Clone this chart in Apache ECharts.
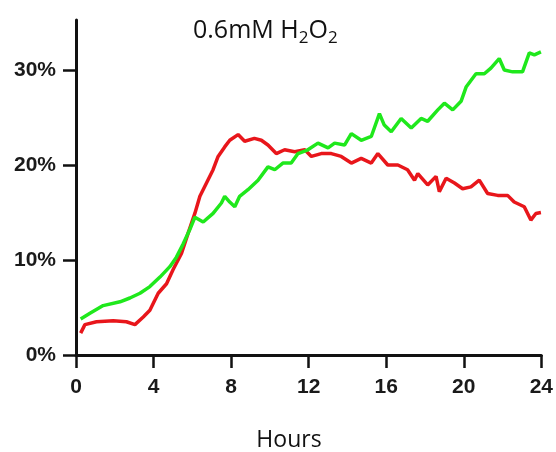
<!DOCTYPE html>
<html>
<head>
<meta charset="utf-8">
<script src="https://cdn.jsdelivr.net/npm/echarts@6/dist/echarts.min.js"></script>
<style>html,body{margin:0;padding:0;background:#fff}#c{width:556px;height:452px}</style>
</head>
<body>
<div id="c"></div>
<script>
const titleMain = '0.6mM H';
const titleMid = 'O';
const titleSub = '2';
const xAxisTitle = 'Hours';
const xTicks = [0, 4, 8, 12, 16, 20, 24];
const yTicks = [0, 10, 20, 30];

const greenHours = [0.24,0.72,1.4,2.27,2.78,3.3,3.81,4.33,4.84,5.18,5.53,5.87,6.13,6.56,7.07,7.5,7.67,7.93,8.19,8.44,8.87,9.39,9.9,10.25,10.67,11.1,11.45,11.96,12.48,13.0,13.34,13.85,14.2,14.71,15.23,15.65,15.9,16.26,16.77,17.29,17.8,18.14,18.66,19.0,19.43,19.86,20.12,20.63,21.06,21.4,21.83,22.09,22.52,23.03,23.38,23.64,23.98];
const greenValues = [3.8,4.4,5.2,5.6,6.0,6.5,7.2,8.2,9.3,10.3,11.7,13.2,14.5,14.0,14.9,16.0,16.7,16.1,15.6,16.7,17.4,18.4,19.8,19.5,20.2,20.2,21.2,21.6,22.3,21.8,22.3,22.1,23.3,22.6,23.0,25.4,24.2,23.5,24.9,23.9,24.9,24.6,25.8,26.5,25.8,26.7,28.2,29.6,29.6,30.2,31.2,30.0,29.8,29.8,31.8,31.6,31.9];

const redHours = [0.24,0.46,1.06,1.92,2.6,3.04,3.47,3.81,4.24,4.67,5.01,5.44,5.78,6.13,6.39,6.73,7.07,7.33,7.67,7.93,8.36,8.7,9.2,9.56,9.9,10.33,10.76,11.28,11.8,12.14,12.65,13.17,13.68,14.2,14.71,15.23,15.57,16.08,16.6,17.1,17.46,17.63,18.14,18.57,18.74,19.09,19.52,19.94,20.37,20.8,21.23,21.75,22.26,22.6,23.12,23.46,23.72,23.98];
const redValues = [2.3,3.2,3.5,3.6,3.5,3.2,4.0,4.7,6.5,7.5,9.0,10.7,12.8,14.9,16.7,18.1,19.5,20.9,21.9,22.6,23.2,22.5,22.8,22.6,22.1,21.2,21.6,21.4,21.6,20.9,21.2,21.2,20.9,20.2,20.7,20.2,21.2,20.0,20.0,19.5,18.4,19.1,17.9,18.8,17.2,18.6,18.1,17.5,17.7,18.4,17.0,16.8,16.8,16.1,15.6,14.2,14.9,15.0];

const zip = (a, b) => a.map((v, i) => [v, b[i]]);
const axisColor = '#111';
const labelFont = {fontFamily: '"Liberation Sans Narrow","Liberation Sans",Arial,sans-serif', fontWeight: 'bold', fontSize: 21, color: '#1a1a1a'};

const chart = echarts.init(document.getElementById('c'), null, {renderer: 'canvas'});
chart.setOption({
  animation: false,
  backgroundColor: '#fff',
  grid: {left: 76, right: 14, top: 20, bottom: 97, containLabel: false},
  xAxis: {
    type: 'value', min: 0, max: 24, interval: 4,
    splitLine: {show: false},
    axisLine: {show: true, lineStyle: {color: axisColor, width: 3}},
    axisTick: {show: true, length: 13, lineStyle: {color: axisColor, width: 2.5}, customValues: xTicks},
    axisLabel: Object.assign({margin: 22, customValues: xTicks}, labelFont)
  },
  yAxis: {
    type: 'value', min: 0, max: 35.26,
    splitLine: {show: false},
    axisLine: {show: true, onZero: false, lineStyle: {color: axisColor, width: 3}},
    axisTick: {show: true, length: 13, lineStyle: {color: axisColor, width: 2.5}, customValues: yTicks},
    axisLabel: Object.assign({margin: 20, customValues: yTicks, formatter: v => v + '%'}, labelFont)
  },
  series: [
    {type: 'line', data: zip(redHours, redValues), showSymbol: false, symbol: 'none',
     lineStyle: {color: '#e8161b', width: 3.5}, z: 2},
    {type: 'line', data: zip(greenHours, greenValues), showSymbol: false, symbol: 'none',
     lineStyle: {color: '#1fe81c', width: 3.5}, z: 3}
  ],
  graphic: [
    {type: 'text', left: 193, top: 18,
     style: {
       text: '{n|' + titleMain + '}{s|' + titleSub + '}{n|' + titleMid + '}{s|' + titleSub + '}',
       rich: {
         n: {fontFamily: '"Open Sans",sans-serif', fontSize: 25, lineHeight: 29, padding: [0,0,3,0], verticalAlign: 'top', fill: '#111'},
         s: {fontFamily: '"Open Sans",sans-serif', fontSize: 17, lineHeight: 17, verticalAlign: 'bottom', fill: '#111'}
       }
     }},
    {type: 'text', x: 289, y: 440,
     style: {text: xAxisTitle, fontFamily: '"Open Sans",sans-serif', fontSize: 23, fill: '#111', align: 'center', verticalAlign: 'middle'}}
  ]
});
</script>
</body>
</html>
